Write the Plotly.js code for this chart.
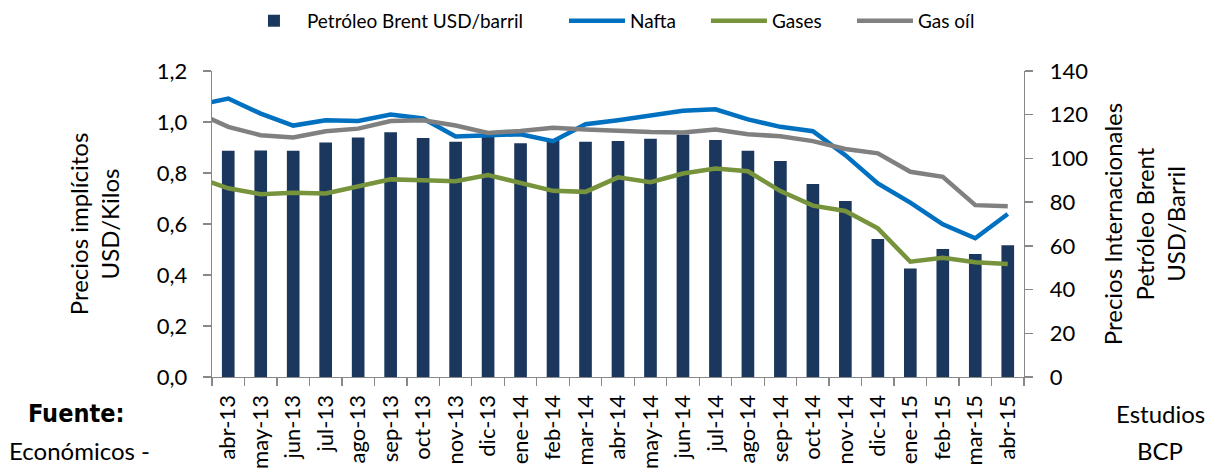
<!DOCTYPE html>
<html>
<head>
<meta charset="utf-8">
<script src="https://cdn.plot.ly/plotly-3.0.1.min.js"></script>
<style>
  html, body { margin: 0; padding: 0; background: #ffffff; }
  #chart { width: 1209px; height: 470px; }
</style>
</head>
<body>
<div id="chart"></div>
<script>
// Month labels (bars and axis)
const months = ["abr-13","may-13","jun-13","jul-13","ago-13","sep-13","oct-13","nov-13","dic-13",
                "ene-14","feb-14","mar-14","abr-14","may-14","jun-14","jul-14","ago-14","sep-14",
                "oct-14","nov-14","dic-14","ene-15","feb-15","mar-15","abr-15"];
// The lines carry one earlier month, only partly visible at the left edge
const priorMonth = "mar-13";

// Petróleo Brent USD/barril (right axis)
const brent = [103.5, 103.6, 103.5, 107.3, 109.6, 112.0, 109.4, 107.6, 110.6,
               107.0, 108.5, 107.6, 108.0, 109.0, 111.0, 108.4, 103.5, 98.8,
               88.3, 80.5, 63.1, 49.6, 58.6, 56.3, 60.3];

// Implied prices USD/Kilos (left axis), first value = priorMonth
const nafta  = [1.065, 1.092, 1.033, 0.986, 1.007, 1.004, 1.029, 1.014, 0.943, 0.947,
                0.952, 0.925, 0.991, 1.007, 1.027, 1.044, 1.050, 1.010, 0.981, 0.964,
                0.870, 0.759, 0.684, 0.599, 0.544, 0.639];
const gases  = [0.784, 0.740, 0.717, 0.723, 0.720, 0.749, 0.775, 0.772, 0.768, 0.792,
                0.759, 0.730, 0.726, 0.783, 0.764, 0.798, 0.818, 0.807, 0.729, 0.672,
                0.651, 0.583, 0.452, 0.468, 0.450, 0.443];
const gasoil = [1.039, 0.981, 0.948, 0.939, 0.964, 0.974, 1.004, 1.007, 0.986, 0.957,
                0.965, 0.977, 0.971, 0.965, 0.961, 0.959, 0.971, 0.952, 0.944, 0.925,
                0.894, 0.877, 0.805, 0.785, 0.674, 0.670];

const lineMonths = [priorMonth].concat(months);

const FONT = "Lato, 'Open Sans', 'Noto Sans', sans-serif";
const AXIS = "#888888";

const traces = [
  { type: "bar", name: "Petróleo Brent USD/barril", x: months, y: brent, yaxis: "y",
    width: 0.39, marker: { color: "#1B375E" }, legend: "legend" },
  { type: "scatter", mode: "lines", name: "Nafta", x: lineMonths, y: nafta, yaxis: "y2",
    line: { color: "#0070C0", width: 4.5 }, legend: "legend2" },
  { type: "scatter", mode: "lines", name: "Gases", x: lineMonths, y: gases, yaxis: "y2",
    line: { color: "#77933C", width: 4.5 }, legend: "legend3" },
  { type: "scatter", mode: "lines", name: "Gas oíl", x: lineMonths, y: gasoil, yaxis: "y2",
    line: { color: "#808080", width: 4.5 }, legend: "legend4" }
];

function legendAt(xFrac) {
  return { orientation: "h", xref: "container", yref: "container", x: xFrac, xanchor: "left",
           y: 0.996, yanchor: "top", font: { size: 19 }, itemwidth: 56, bgcolor: "rgba(0,0,0,0)" };
}

const layout = {
  width: 1209, height: 470,
  margin: { l: 212, r: 185, t: 71, b: 93, pad: 0 },
  paper_bgcolor: "#ffffff", plot_bgcolor: "#ffffff",
  separators: ",.",
  font: { family: FONT, size: 20, color: "#000000" },
  showlegend: true,
  legend: legendAt(0.1993),
  legend2: legendAt(0.4665),
  legend3: legendAt(0.5839),
  legend4: legendAt(0.7047),
  xaxis: {
    type: "category", categoryorder: "array", categoryarray: lineMonths,
    range: [0.5, 25.5], tickson: "boundaries", ticks: "outside", ticklen: 8,
    tickcolor: AXIS, tickwidth: 1.3, showline: true, linecolor: AXIS, linewidth: 1.3,
    showgrid: false, zeroline: false, tickangle: -90, tickfont: { size: 22 }, ticklabelstandoff: 8
  },
  yaxis: {
    side: "right", range: [0, 140], dtick: 20, tick0: 0, ticks: "outside", ticklen: 8,
    tickcolor: AXIS, tickwidth: 1.3, showline: true, linecolor: AXIS, linewidth: 1.3,
    showgrid: false, zeroline: false, tickfont: { size: 22 }, ticklabelstandoff: 12,
    title: { text: "Precios Internacionales<br>Petróleo Brent<br>USD/Barril", font: { size: 24 }, standoff: 18 }
  },
  yaxis2: {
    side: "left", overlaying: "y", range: [0, 1.2], dtick: 0.2, tick0: 0, tickformat: ".1f",
    ticks: "outside", ticklen: 8, tickcolor: AXIS, tickwidth: 1.3, showline: true,
    linecolor: AXIS, linewidth: 1.3, showgrid: false, zeroline: false, tickfont: { size: 22 },
    ticklabelstandoff: 11,
    title: { text: "Precios implícitos<br>USD/Kilos", font: { size: 24 }, standoff: 30 }
  },
  annotations: [
    { text: "<b>Fuente:</b>", xref: "paper", yref: "paper", x: -0.168, y: -0.118, showarrow: false,
      xanchor: "center", yanchor: "middle", font: { family: "'Liberation Sans Narrow', 'DejaVu Sans Condensed', sans-serif", size: 25 } },
    { text: "Económicos -", xref: "paper", yref: "paper", x: -0.1626, y: -0.240, showarrow: false,
      xanchor: "center", yanchor: "middle", font: { size: 24 } },
    { text: "Estudios", xref: "paper", yref: "paper", x: 1.168, y: -0.118, showarrow: false,
      xanchor: "center", yanchor: "middle", font: { size: 24 } },
    { text: "BCP", xref: "paper", yref: "paper", x: 1.168, y: -0.240, showarrow: false,
      xanchor: "center", yanchor: "middle", font: { size: 24 } }
  ]
};

Plotly.newPlot("chart", traces, layout, { displayModeBar: false, staticPlot: true });
</script>
</body>
</html>
